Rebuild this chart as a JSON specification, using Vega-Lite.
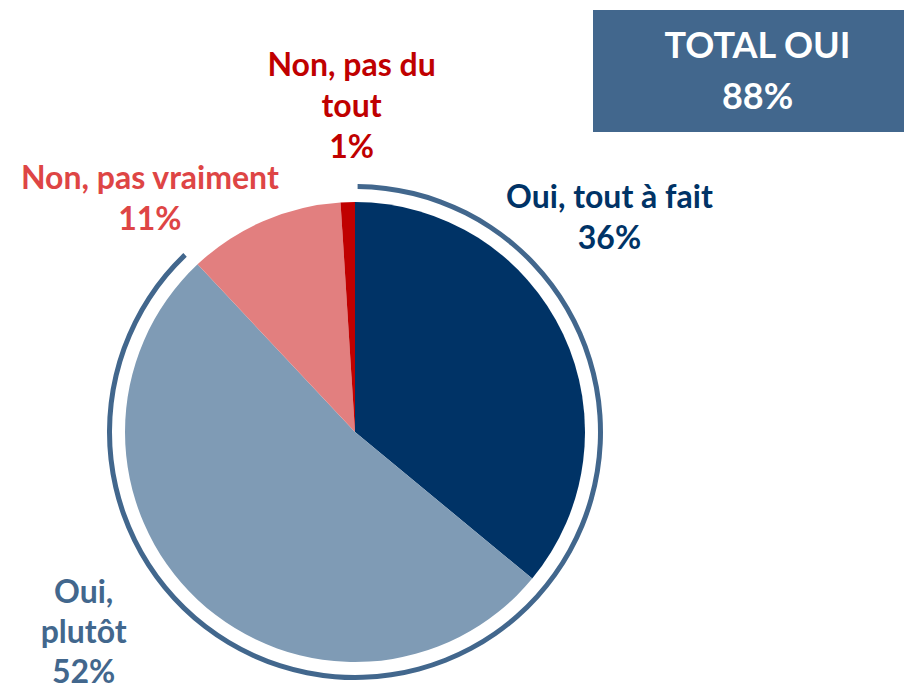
{
  "$schema": "https://vega.github.io/schema/vega-lite/v6.json",
  "padding": {"left": 0, "top": 10, "right": 0, "bottom": 0},
  "background": "white",
  "config": {"view": {"stroke": null}, "font": "Lato"},
  "datasets": {
    "reponses": [
      {"reponse": "Oui, tout à fait", "etiquette": "Oui, tout à fait", "groupe": "Oui", "ordre": 1, "pct": 36},
      {"reponse": "Oui, plutôt", "etiquette": "Oui,\nplutôt", "groupe": "Oui", "ordre": 2, "pct": 52},
      {"reponse": "Non, pas vraiment", "etiquette": "Non, pas vraiment", "groupe": "Non", "ordre": 3, "pct": 11},
      {"reponse": "Non, pas du tout", "etiquette": "Non, pas du\ntout", "groupe": "Non", "ordre": 4, "pct": 1}
    ]
  },
  "bounds": "flush",
  "spacing": 192,
  "vconcat": [
    {
      "bounds": "flush",
      "spacing": 0,
      "hconcat": [
        {
          "width": 593,
          "height": 122,
          "data": {"values": [{}]},
          "mark": {"type": "text", "text": ""},
          "encoding": {}
        },
        {
          "width": 311,
          "height": 122,
          "view": {"fill": "#42678D", "stroke": null},
          "data": {"name": "reponses"},
          "transform": [
            {"filter": "datum.groupe === 'Oui'"},
            {"aggregate": [{"op": "sum", "field": "pct", "as": "total"}]},
            {"calculate": "'TOTAL OUI\\n' + datum.total + '%'", "as": "texte"}
          ],
          "mark": {"type": "text", "color": "white", "font": "Lato", "fontWeight": "bold", "fontSize": 36, "lineBreak": "\n", "lineHeight": 51, "align": "center", "baseline": "middle", "dx": 9, "dy": -24},
          "encoding": {"text": {"field": "texte"}}
        }
      ]
    },
    {
      "width": 710,
      "height": 460,
      "data": {"name": "reponses"},
      "transform": [
        {"stack": "pct", "groupby": [], "sort": [{"field": "ordre", "order": "ascending"}], "as": ["deb", "fin"]},
        {"calculate": "(datum.deb + datum.fin) / 2", "as": "milieu"},
        {"calculate": "datum.etiquette + '\\n' + datum.pct + '%'", "as": "texte"}
      ],
      "layer": [
        {
          "transform": [
            {"filter": "datum.groupe === 'Oui'"},
            {"aggregate": [{"op": "min", "field": "deb", "as": "a"}, {"op": "max", "field": "fin", "as": "b"}]}
          ],
          "mark": {"type": "arc", "innerRadius": 243, "outerRadius": 248, "padAngle": 0.015, "color": "#42678D"},
          "encoding": {
            "theta": {"field": "a", "type": "quantitative", "scale": {"domain": [0, 100], "range": [0, 6.283185307]}},
            "theta2": {"field": "b"}
          }
        },
        {
          "mark": {"type": "arc", "radius": 230},
          "encoding": {
            "theta": {"field": "deb", "type": "quantitative", "scale": {"domain": [0, 100], "range": [0, 6.283185307]}},
            "theta2": {"field": "fin"},
            "color": {
              "field": "reponse",
              "type": "nominal",
              "scale": {
                "domain": ["Oui, tout à fait", "Oui, plutôt", "Non, pas vraiment", "Non, pas du tout"],
                "range": ["#003366", "#7F9BB5", "#E27F7F", "#C00000"]
              },
              "legend": null
            }
          }
        },
        {
          "transform": [{"filter": "datum.ordre === 1"}],
          "mark": {"type": "text", "radius": 300, "dx": -17, "dy": -106, "color": "#003366", "font": "Lato", "fontSize": 32, "fontWeight": "bold", "lineBreak": "\n", "lineHeight": 41, "align": "center", "baseline": "middle"},
          "encoding": {
            "theta": {"field": "milieu", "type": "quantitative", "scale": {"domain": [0, 100], "range": [0, 6.283185307]}},
            "text": {"field": "texte"}
          }
        },
        {
          "transform": [{"filter": "datum.ordre === 2"}],
          "mark": {"type": "text", "radius": 300, "dx": -66, "dy": -58, "color": "#42678D", "font": "Lato", "fontSize": 32, "fontWeight": "bold", "lineBreak": "\n", "lineHeight": 40, "align": "center", "baseline": "middle"},
          "encoding": {
            "theta": {"field": "milieu", "type": "quantitative", "scale": {"domain": [0, 100], "range": [0, 6.283185307]}},
            "text": {"field": "texte"}
          }
        },
        {
          "transform": [{"filter": "datum.ordre === 3"}],
          "mark": {"type": "text", "radius": 300, "dx": -86, "dy": 22, "color": "#DE4545", "font": "Lato", "fontSize": 32, "fontWeight": "bold", "lineBreak": "\n", "lineHeight": 41, "align": "center", "baseline": "middle"},
          "encoding": {
            "theta": {"field": "milieu", "type": "quantitative", "scale": {"domain": [0, 100], "range": [0, 6.283185307]}},
            "text": {"field": "texte"}
          }
        },
        {
          "transform": [{"filter": "datum.ordre === 4"}],
          "mark": {"type": "text", "radius": 300, "dx": 6, "dy": -66, "color": "#C00000", "font": "Lato", "fontSize": 32, "fontWeight": "bold", "lineBreak": "\n", "lineHeight": 41, "align": "center", "baseline": "middle"},
          "encoding": {
            "theta": {"field": "milieu", "type": "quantitative", "scale": {"domain": [0, 100], "range": [0, 6.283185307]}},
            "text": {"field": "texte"}
          }
        }
      ]
    }
  ]
}
